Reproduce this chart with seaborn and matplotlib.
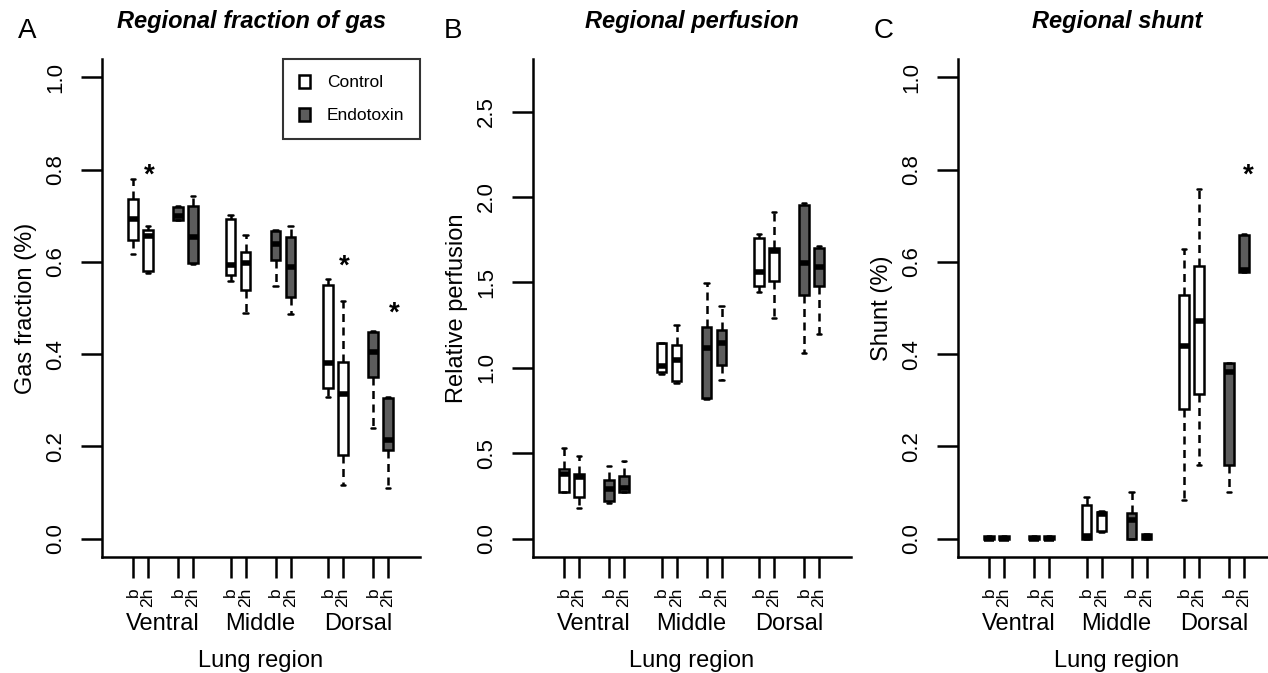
import numpy as np
import pandas as pd
import matplotlib
matplotlib.use("Agg")
import matplotlib.pyplot as plt
from matplotlib.patches import Patch
import seaborn as sns

# Box summaries: [whisker low, q1, median, q3, whisker high]
# order in each region: Control b, Control 2h, Endotoxin b, Endotoxin 2h
gas_stats = [
    [0.618, 0.648, 0.693, 0.736, 0.779],
    [0.576, 0.581, 0.657, 0.669, 0.678],
    [0.690, 0.691, 0.700, 0.718, 0.721],
    [0.596, 0.598, 0.654, 0.721, 0.742],
    [0.558, 0.572, 0.593, 0.693, 0.702],
    [0.490, 0.538, 0.598, 0.622, 0.659],
    [0.547, 0.605, 0.639, 0.668, 0.670],
    [0.486, 0.523, 0.588, 0.654, 0.677],
    [0.307, 0.326, 0.381, 0.549, 0.563],
    [0.117, 0.182, 0.313, 0.382, 0.516],
    [0.239, 0.351, 0.405, 0.448, 0.451],
    [0.109, 0.192, 0.214, 0.304, 0.306],
]
perfusion_stats = [
    [0.271, 0.271, 0.380, 0.405, 0.530],
    [0.180, 0.244, 0.360, 0.380, 0.481],
    [0.210, 0.218, 0.290, 0.341, 0.427],
    [0.270, 0.271, 0.295, 0.365, 0.456],
    [0.963, 0.978, 1.012, 1.144, 1.144],
    [0.910, 0.920, 1.047, 1.135, 1.251],
    [0.815, 0.823, 1.115, 1.236, 1.495],
    [0.930, 1.014, 1.144, 1.222, 1.363],
    [1.443, 1.480, 1.563, 1.758, 1.784],
    [1.290, 1.510, 1.686, 1.704, 1.910],
    [1.086, 1.427, 1.616, 1.953, 1.963],
    [1.199, 1.480, 1.589, 1.704, 1.715],
]
shunt_stats = [
    [0.0, 0.0, 0.0, 0.005, 0.005],
    [0.0, 0.0, 0.0, 0.005, 0.005],
    [0.0, 0.0, 0.0, 0.005, 0.005],
    [0.0, 0.0, 0.0, 0.005, 0.005],
    [0.0, 0.0, 0.005, 0.073, 0.091],
    [0.015, 0.017, 0.053, 0.057, 0.059],
    [0.0, 0.0, 0.040, 0.055, 0.102],
    [0.0, 0.0, 0.003, 0.010, 0.010],
    [0.083, 0.280, 0.418, 0.528, 0.628],
    [0.160, 0.313, 0.471, 0.591, 0.757],
    [0.102, 0.160, 0.362, 0.381, 0.381],
    [0.578, 0.579, 0.582, 0.659, 0.660],
]

positions = [0, 1, 3, 4, 6.5, 7.5, 9.5, 10.5, 13, 14, 16, 17]
time_labels = ["b", "2h"] * 6
groups = (["Control"] * 2 + ["Endotoxin"] * 2) * 3
regions = ["Ventral", "Middle", "Dorsal"]
region_centers = [2, 8.5, 15]

titles = ["Regional fraction of gas", "Regional perfusion", "Regional shunt"]
ylabels = ["Gas fraction (%)", "Relative perfusion", "Shunt (%)"]
panel_letters = ["A", "B", "C"]
ylims = [(-0.04, 1.04), (-0.108, 2.808), (-0.04, 1.04)]
yticks = [np.arange(0, 1.01, 0.2), np.arange(0, 2.51, 0.5), np.arange(0, 1.01, 0.2)]

# significance stars: (x position, y value)
stars = [
    [(1.1, 0.786), (14.1, 0.590), (17.4, 0.488)],
    [],
    [(17.3, 0.786)],
]

colors = {"Control": "white", "Endotoxin": "#5c5c5c"}

sns.set_style("ticks")
plt.rcParams["font.family"] = ["Liberation Sans", "DejaVu Sans"]
plt.rcParams.update({
    "text.color": "black",
    "axes.labelcolor": "black",
    "axes.edgecolor": "black",
    "xtick.color": "black",
    "ytick.color": "black",
})

fig = plt.figure(figsize=(12.68, 6.73), dpi=100)
lefts = [102, 533, 958]
letter_x = [27, 453, 884]

for k, stats in enumerate([gas_stats, perfusion_stats, shunt_stats]):
    ax = fig.add_axes([lefts[k] / 1268, 116 / 673, 318 / 1268, 498 / 673])
    rows = []
    for pos, grp, vals in zip(positions, groups, stats):
        for v in vals:
            rows.append({"pos": pos, "value": v, "group": grp})
    df = pd.DataFrame(rows)

    sns.boxplot(data=df, x="pos", y="value", hue="group", native_scale=True,
                dodge=False, whis=np.inf, width=0.65, palette=colors,
                saturation=1, linecolor="black", linewidth=1.8,
                medianprops={"linewidth": 4},
                whiskerprops={"linestyle": (0, (3.2, 2.2))},
                legend=False, ax=ax)

    ax.set_xlim(-2.07, 19.13)
    ax.set_ylim(*ylims[k])
    ax.set_xticks(positions)
    ax.set_xticklabels(time_labels, rotation=90, fontsize=12.5)
    ax.set_yticks(yticks[k])
    ax.set_yticklabels([f"{t:.1f}" for t in yticks[k]], rotation=90,
                       va="center", fontsize=16)
    ax.tick_params(axis="x", length=15, width=1.8, pad=7)
    ax.tick_params(axis="y", length=15, width=1.8, pad=11)
    for s in ["top", "right"]:
        ax.spines[s].set_visible(False)
    for s in ["left", "bottom"]:
        ax.spines[s].set_linewidth(1.8)

    ax.set_ylabel(ylabels[k], fontsize=17)
    ax.yaxis.set_label_coords(-0.205, 0.5)
    ax.set_xlabel("Lung region", fontsize=17)
    ax.xaxis.set_label_coords(0.5, -0.187)
    ax.xaxis.label.set_va("top")

    for name, cx in zip(regions, region_centers):
        ax.text(cx, -0.1466, name, transform=ax.get_xaxis_transform(),
                ha="center", va="baseline", fontsize=17)

    tx = 0.47 if k == 0 else 0.5
    ax.set_title(titles[k], fontsize=17, fontweight="bold", style="italic",
                 pad=22, x=tx)
    fig.text(letter_x[k] / 1268, 1 - 38 / 673, panel_letters[k],
             ha="center", va="baseline", fontsize=20)

    for sx, sy in stars[k]:
        ax.text(sx, sy, "*", ha="center", va="center", fontsize=20,
                fontweight="bold")

    if k == 0:
        handles = [Patch(facecolor=colors[g], edgecolor="black", linewidth=1.8, label=g)
                   for g in ["Control", "Endotoxin"]]
        leg = ax.legend(handles=handles, loc="upper right", fontsize=12.5,
                        frameon=True, fancybox=False, borderaxespad=0,
                        borderpad=0.9, labelspacing=1.0, handlelength=0.6,
                        handleheight=0.8, handletextpad=1.0)
        leg.get_frame().set_edgecolor("black")
        leg.get_frame().set_linewidth(1.5)

fig.savefig("out.png", dpi=100)
